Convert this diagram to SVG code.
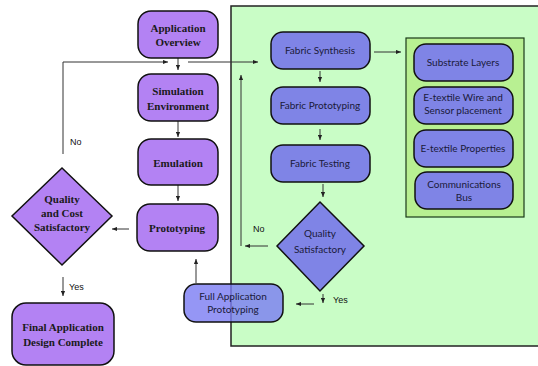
<svg xmlns="http://www.w3.org/2000/svg" width="538" height="366" viewBox="0 0 538 366">
<style>
.pu{fill:#b382f3;stroke:#111;stroke-width:1.5}
.bl{fill:#7f84e6;stroke:#111;stroke-width:1.5}
.ts{font-family:"Liberation Serif",serif;font-weight:bold;font-size:11px;fill:#1a1a1a;text-anchor:middle}
.tg{font-family:Lato,"Open Sans",sans-serif;font-size:10px;fill:#1a1a3a;text-anchor:middle}
.lb{font-family:"Liberation Sans",sans-serif;font-size:9px;fill:#111}
.c{stroke:#333;stroke-width:1;fill:none}
</style>
<defs>
<marker id="ah" viewBox="0 0 6 6" refX="6" refY="3" markerWidth="5" markerHeight="5" orient="auto">
<path d="M0,0.5L6,3L0,5.5z" fill="#222"/>
</marker>
</defs>
<rect id="green-panel" x="231" y="6" width="310" height="340" fill="#c9fdc6" stroke="#222" stroke-width="1.5"/>
<g id="props-panel">
<rect x="406" y="38" width="118" height="179" fill="#b8f092" stroke="#1a3a1a" stroke-width="1.2"/>
</g>
<g id="connectors">
<path class="c" d="M178,58V70" marker-end="url(#ah)"/>
<path class="c" d="M178,121V137" marker-end="url(#ah)"/>
<path class="c" d="M178,185V201" marker-end="url(#ah)"/>
<path class="c" d="M129,229H112" marker-end="url(#ah)"/>
<path class="c" d="M63,277V296" marker-end="url(#ah)"/>
<path class="c" d="M63,154V62H168" marker-end="url(#ah)"/>
<path class="c" d="M188,62H258" marker-end="url(#ah)"/>
<path class="c" d="M374,52H401" marker-end="url(#ah)"/>
<path class="c" d="M320,71V82" marker-end="url(#ah)"/>
<path class="c" d="M320,129V140" marker-end="url(#ah)"/>
<path class="c" d="M323,184V197" marker-end="url(#ah)"/>
<path class="c" d="M268,246H245" marker-end="url(#ah)"/>
<path class="c" d="M241,246V75" marker-end="url(#ah)"/>
<path class="c" d="M323,294V303" marker-end="url(#ah)"/>
<path class="c" d="M314,304H296" marker-end="url(#ah)"/>
<path class="c" d="M196,283V259" marker-end="url(#ah)"/>
<text class="lb" x="70" y="145">No</text>
<text class="lb" x="69" y="290">Yes</text>
<text class="lb" x="253" y="232">No</text>
<text class="lb" x="333" y="303">Yes</text>
</g>
<g id="app-overview">
<rect class="pu" x="138" y="11" width="80" height="47" rx="13"/>
<text class="ts" x="178" y="32">Application</text>
<text class="ts" x="178" y="46">Overview</text>
</g>
<g id="simulation">
<rect class="pu" x="138" y="74" width="80" height="47" rx="13"/>
<text class="ts" x="178" y="95">Simulation</text>
<text class="ts" x="178" y="110">Environment</text>
</g>
<g id="emulation">
<rect class="pu" x="138" y="139" width="80" height="46" rx="13"/>
<text class="ts" x="178" y="167">Emulation</text>
</g>
<g id="prototyping">
<rect class="pu" x="137" y="204" width="81" height="47" rx="13"/>
<text class="ts" x="177" y="232">Prototyping</text>
</g>
<g id="quality-cost">
<polygon class="pu" points="62,168 112,216 62,265 12,216"/>
<text class="ts" x="62" y="203">Quality</text>
<text class="ts" x="62" y="217">and Cost</text>
<text class="ts" x="62" y="231">Satisfactory</text>
</g>
<g id="final">
<rect class="pu" x="12" y="303" width="102" height="62" rx="14"/>
<text class="ts" x="63" y="331">Final Application</text>
<text class="ts" x="63" y="346">Design Complete</text>
</g>
<g id="fabric-synthesis">
<rect class="bl" x="271" y="32" width="99" height="37" rx="12"/>
<text class="tg" x="320" y="54">Fabric Synthesis</text>
</g>
<g id="fabric-prototyping">
<rect class="bl" x="271" y="87" width="99" height="37" rx="12"/>
<text class="tg" x="320" y="109">Fabric Prototyping</text>
</g>
<g id="fabric-testing">
<rect class="bl" x="271" y="145" width="99" height="37" rx="12"/>
<text class="tg" x="320" y="167">Fabric Testing</text>
</g>
<g id="quality-satisfactory">
<polygon class="bl" points="320,202 364,246 320,291 277,246"/>
<text class="tg" x="320" y="237">Quality</text>
<text class="tg" x="320" y="253">Satisfactory</text>
</g>
<g id="full-app">
<rect x="184" y="284" width="99" height="38" rx="12" fill="#7b7cf2" fill-opacity="0.8" stroke="#111" stroke-width="1.5"/>
<text class="tg" x="233" y="300">Full Application</text>
<text class="tg" x="233" y="313">Prototyping</text>
</g>
<g id="substrate">
<rect class="bl" x="414" y="44" width="99" height="37" rx="12"/>
<text class="tg" x="463" y="66">Substrate Layers</text>
</g>
<g id="wire">
<rect class="bl" x="414" y="87" width="99" height="37" rx="12"/>
<text class="tg" x="463" y="101">E-textile Wire and</text>
<text class="tg" x="463" y="114">Sensor placement</text>
</g>
<g id="properties">
<rect class="bl" x="414" y="130" width="99" height="37" rx="12"/>
<text class="tg" x="463" y="152">E-textile Properties</text>
</g>
<g id="comm-bus">
<rect class="bl" x="415" y="172" width="98" height="37" rx="12"/>
<text class="tg" x="464" y="188">Communications</text>
<text class="tg" x="464" y="201">Bus</text>
</g>
</svg>
